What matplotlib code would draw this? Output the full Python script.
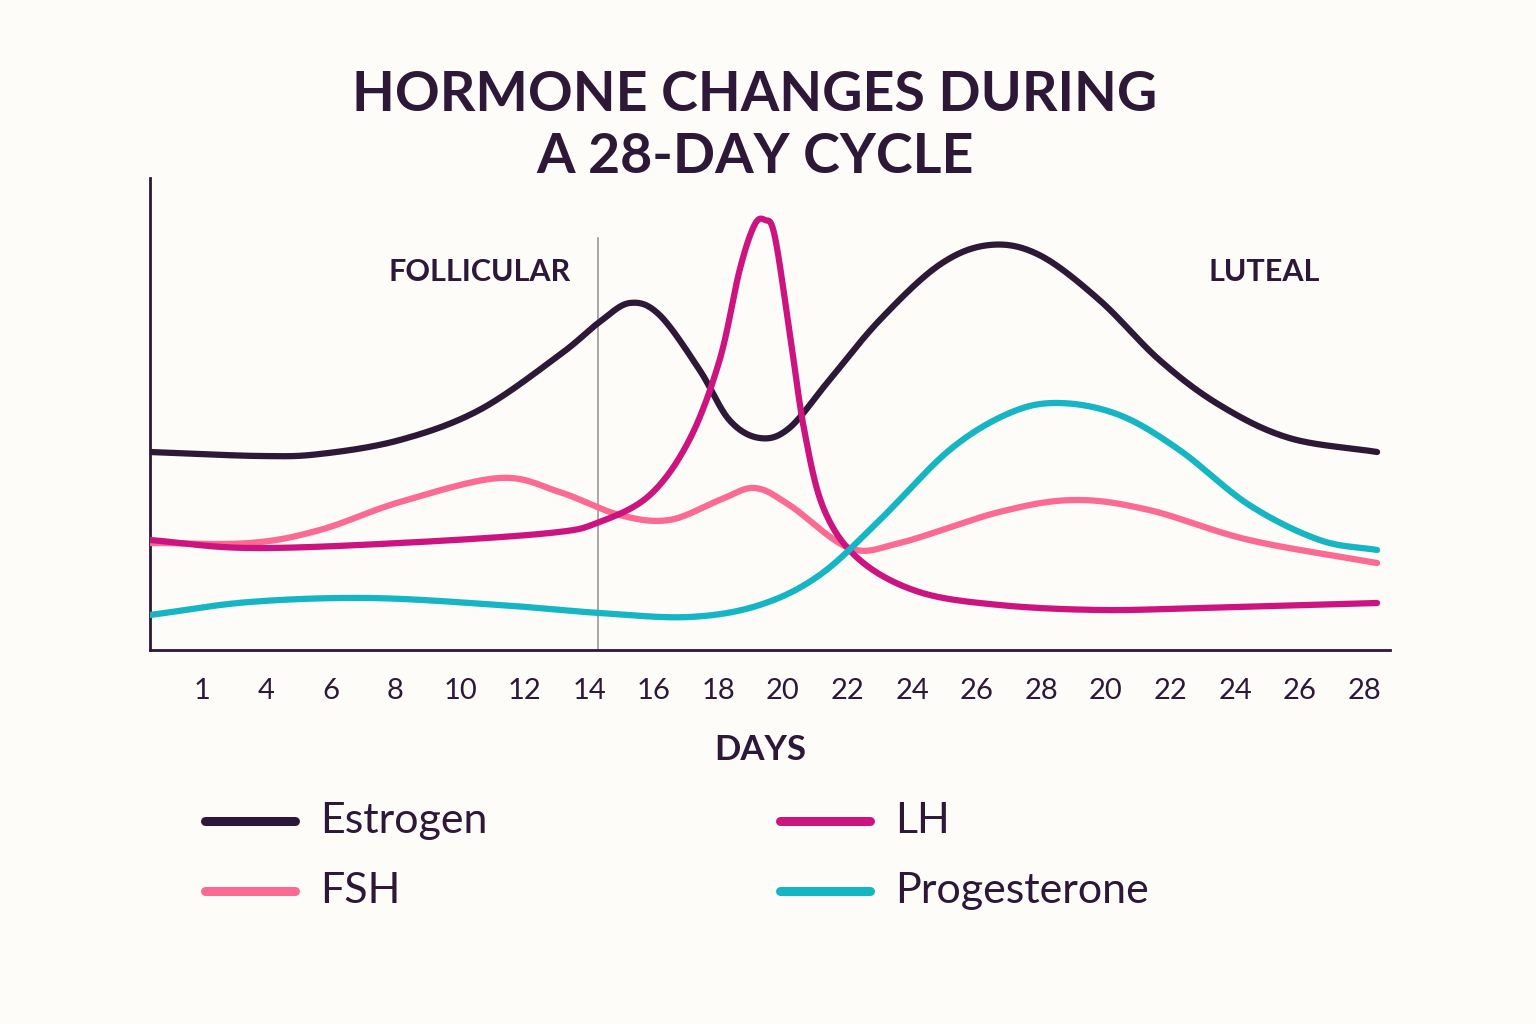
import numpy as np
import matplotlib
matplotlib.use("Agg")
import matplotlib.pyplot as plt

tick_labels = ["1","4","6","8","10","12","14","16","18","20","22","24","26","28","20","22","24","26","28"]

est_x = [-0.80,0.90,1.83,3.07,4.30,5.54,6.16,6.63,7.09,7.71,8.17,8.64,9.10,9.72,10.50,11.42,12.20,12.97,13.90,14.83,15.76,16.84,18.20]
est_y = [198,194,196,210,240,295,328,347,335,280,230,212,222,270,330,385,405,395,350,290,245,212,198]
lh_x = [-0.80,0.74,3.07,5.39,6.16,6.94,7.55,8.02,8.33,8.56,8.72,8.87,9.10,9.33,9.64,10.19,11.11,12.35,13.90,15.45,18.20]
lh_y = [110,102,107,117,128,155,210,290,380,425,430,415,320,220,140,90,58,45,40,42,47]
fsh_x = [-0.80,0.74,1.83,3.07,4.61,5.54,6.47,7.24,8.02,8.56,9.10,10.03,10.81,12.35,13.51,14.67,16.22,18.20]
fsh_y = [107,107,120,148,172,158,135,130,150,162,145,102,107,138,150,140,110,87]
pro_x = [-0.80,0.74,2.60,4.61,6.16,7.55,8.64,9.57,10.50,11.58,12.51,13.28,14.21,15.14,16.22,17.31,18.20]
pro_y = [35,48,52,45,37,33,45,75,130,200,237,247,235,200,145,110,100]

def smooth(x, y, n=30):
    x = np.asarray(x, float); y = np.asarray(y, float)
    px = np.concatenate([[2*x[0]-x[1]], x, [2*x[-1]-x[-2]]])
    py = np.concatenate([[2*y[0]-y[1]], y, [2*y[-1]-y[-2]]])
    ox, oy = [], []
    t = np.linspace(0, 1, n, endpoint=False)
    for i in range(1, len(px)-2):
        for arr, out in ((px, ox), (py, oy)):
            p0, p1, p2, p3 = arr[i-1], arr[i], arr[i+1], arr[i+2]
            out.extend(0.5*((2*p1) + (-p0+p2)*t + (2*p0-5*p1+4*p2-p3)*t**2 + (-p0+3*p1-3*p2+p3)*t**3))
    ox.append(x[-1]); oy.append(y[-1])
    return np.array(ox), np.array(oy)

bg = "#fdfcf8"; dark = "#2e1838"
c_est, c_lh, c_fsh, c_pro = dark, "#cc1480", "#fa6a93", "#15b5c4"
fam = ["Lato", "DejaVu Sans"]

fig = plt.figure(figsize=(15.36, 10.24), dpi=100, facecolor=bg)
ax = fig.add_axes([150/1536, 1-650/1024, 1240/1536, 472/1024], facecolor=bg)
ax.set_xlim(-0.8, 18.4); ax.set_ylim(0, 472)
for s in ("top", "right"):
    ax.spines[s].set_visible(False)
for s in ("left", "bottom"):
    ax.spines[s].set_color(dark); ax.spines[s].set_linewidth(2)

lw = 4.5
for x, y, c in ((est_x, est_y, c_est), (fsh_x, fsh_y, c_fsh), (lh_x, lh_y, c_lh), (pro_x, pro_y, c_pro)):
    sx, sy = smooth(x, y)
    ax.plot(sx, sy, color=c, lw=lw, solid_capstyle="round", zorder=3)

ax.plot([6.13, 6.13], [0, 412], color="#999999", lw=1.2, zorder=1)
ax.set_xticks(range(len(tick_labels)))
ax.set_xticklabels(tick_labels, fontsize=21, color=dark, family=fam)
ax.tick_params(axis="x", length=0, pad=20)
ax.set_yticks([])
ax.text(4.3, 378, "FOLLICULAR", fontsize=22, fontweight="bold", color=dark, ha="center", va="center", family=fam)
ax.text(16.45, 378, "LUTEAL", fontsize=22, fontweight="bold", color=dark, ha="center", va="center", family=fam)

fig.text(755/1536, 1-95/1024, "HORMONE CHANGES DURING", fontsize=40, fontweight="bold", color=dark, ha="center", va="center", family=fam)
fig.text(755/1536, 1-157/1024, "A 28-DAY CYCLE", fontsize=40, fontweight="bold", color=dark, ha="center", va="center", family=fam)
fig.text(760/1536, 1-750/1024, "DAYS", fontsize=25, fontweight="bold", color=dark, ha="center", va="center", family=fam)

legend = [("Estrogen", c_est, 205, 821), ("LH", c_lh, 780, 821), ("FSH", c_fsh, 205, 891), ("Progesterone", c_pro, 780, 891)]
for name, c, lx, ly in legend:
    fig.add_artist(plt.Line2D([lx/1536, (lx+90)/1536], [1-ly/1024]*2, transform=fig.transFigure, color=c, lw=6.5, solid_capstyle="round"))
    fig.text((lx+115)/1536, 1-ly/1024, name, fontsize=31, color=dark, ha="left", va="center", family=fam)

fig.savefig("out.png", dpi=100, facecolor=bg)
